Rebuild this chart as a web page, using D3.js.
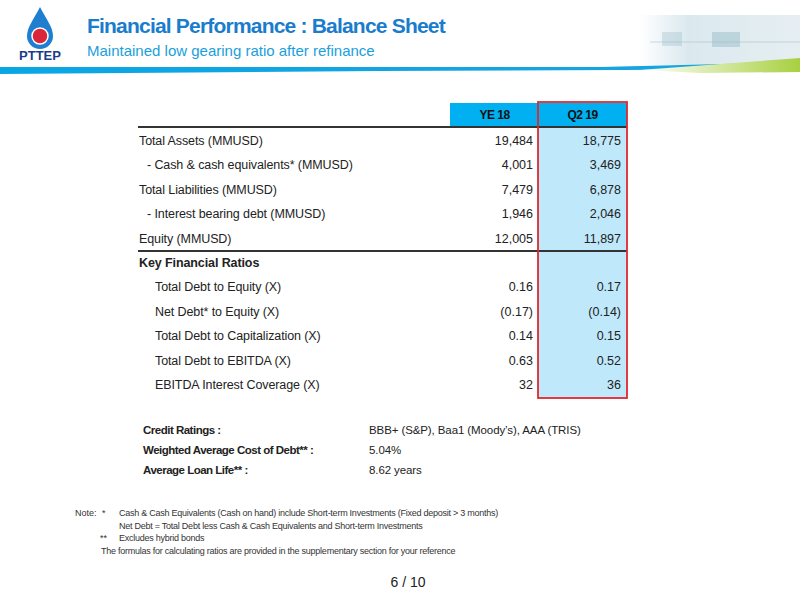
<!DOCTYPE html><html><head><meta charset="utf-8">
<script src="https://cdn.jsdelivr.net/npm/d3@7"></script>
<style>body{margin:0;background:#fff}svg{font-family:"Liberation Sans",Arial,sans-serif}</style></head><body>
<script>
const columns=["YE 18","Q2 19"];
const rowLabels=["Total Assets (MMUSD)","- Cash & cash equivalents* (MMUSD)","Total Liabilities (MMUSD)","-  Interest bearing debt (MMUSD)","Equity (MMUSD)","Key Financial Ratios","Total Debt to Equity (X)","Net Debt* to Equity (X)","Total Debt to Capitalization (X)","Total Debt to EBITDA (X)","EBITDA Interest Coverage (X)"];
const rowIndent=[0,1,0,1,0,0,2,2,2,2,2];
const ye18=["19,484","4,001","7,479","1,946","12,005","","0.16","(0.17)","0.14","0.63","32"];
const q219=["18,775","3,469","6,878","2,046","11,897","","0.17","(0.14)","0.15","0.52","36"];
const infoLabels=["Credit Ratings :","Weighted Average Cost of Debt** :","Average Loan Life** :"];
const infoValues=["BBB+ (S&P), Baa1 (Moody’s),  AAA (TRIS)","5.04%","8.62 years"];
const notes=[["Note:","*","Cash & Cash Equivalents (Cash on hand) include Short-term Investments (Fixed deposit > 3 months)"],["","","Net Debt = Total Debt less Cash & Cash Equivalents and Short-term Investments"],["","**","Excludes hybrid bonds"],["","","The formulas for calculating ratios are provided in the supplementary section for your reference"]];

const svg=d3.select("body").append("svg").attr("width",800).attr("height",600);
const defs=svg.append("defs");
const g1=defs.append("linearGradient").attr("id","band");
g1.append("stop").attr("offset","0").attr("stop-color","#0aa6e4");
g1.append("stop").attr("offset","1").attr("stop-color","#1aa3e0");
const g2=defs.append("linearGradient").attr("id","green");
g2.append("stop").attr("offset","0").attr("stop-color","#ffffff");
g2.append("stop").attr("offset","1").attr("stop-color","#a8d040");
const g3=defs.append("linearGradient").attr("id","sea");
g3.append("stop").attr("offset","0").attr("stop-color","#fff");
g3.append("stop").attr("offset","0.3").attr("stop-color","#dbe9ef");
g3.append("stop").attr("offset","1").attr("stop-color","#e6eef2");
svg.append("rect").attr("x",640).attr("y",15).attr("width",160).attr("height",50).attr("fill","url(#sea)");
svg.append("rect").attr("x",712).attr("y",32).attr("width",28).attr("height",15).attr("fill","#7aa8b8").attr("opacity",0.35);
svg.append("rect").attr("x",662).attr("y",32).attr("width",20).attr("height",14).attr("fill","#8fb4c2").attr("opacity",0.3);
svg.append("line").attr("x1",650).attr("x2",800).attr("y1",42).attr("y2",42).attr("stroke","#9bbcc8").attr("opacity",0.5);
svg.append("path").attr("d","M0,67 L600,67 L800,62 L800,69 L620,70 L380,71 L0,74 Z").attr("fill","url(#band)");
svg.append("path").attr("d","M640,70 L800,58 L800,72 L700,73 Z").attr("fill","url(#green)");
const lg=svg.append("g");
lg.append("path").attr("d","M40,7 C34,19 27,27 27,36 A13,13 0 0 0 53,36 C53,27 46,19 40,7Z").attr("fill","#1e7fd0");
lg.append("circle").attr("cx",40).attr("cy",36).attr("r",8).attr("fill","#d9263a").attr("stroke","#fff").attr("stroke-width",1.5);
svg.append("text").attr("x",40).attr("y",60).attr("text-anchor","middle").attr("font-size",13).attr("font-weight","bold").attr("fill","#1a3c8c").text("PTTEP");
svg.append("text").attr("x",87).attr("y",33).attr("font-size",21).attr("font-weight","bold").attr("fill","#1a7ccc").attr("letter-spacing",-0.8).text("Financial Performance : Balance Sheet");
svg.append("text").attr("x",87).attr("y",56).attr("font-size",15).attr("fill","#1aa0dc").text("Maintained low gearing ratio after refinance");

const x=d3.scaleOrdinal().domain(columns).range([450,538]);
const colW=89;
const rowY=d3.scalePoint().domain(d3.range(rowLabels.length)).range([141,385]);
const fs=12.5;
svg.append("rect").attr("x",x("YE 18")).attr("y",103).attr("width",colW).attr("height",24).attr("fill","#00b0f0");
svg.append("rect").attr("x",x("Q2 19")).attr("y",103).attr("width",colW).attr("height",24).attr("fill","#00b0f0");
svg.append("rect").attr("x",x("Q2 19")).attr("y",127).attr("width",colW).attr("height",271).attr("fill","#bfe9fb");
columns.forEach(c=>svg.append("text").attr("x",x(c)+colW/2).attr("y",119).attr("text-anchor","middle").attr("font-size",12).attr("letter-spacing",-0.5).attr("font-weight","bold").attr("fill","#111").text(c));
svg.append("line").attr("x1",138).attr("x2",627).attr("y1",127).attr("y2",127).attr("stroke","#333").attr("stroke-width",2);
svg.append("line").attr("x1",138).attr("x2",627).attr("y1",251).attr("y2",251).attr("stroke","#333").attr("stroke-width",2);
const indentPx=[0,8,16];
rowLabels.forEach((l,i)=>{
  const y=rowY(i)+4;
  svg.append("text").attr("x",139+indentPx[rowIndent[i]]).attr("y",y).attr("font-size",fs).attr("letter-spacing",-0.1)
   .attr("font-weight",i===5?"bold":"normal").attr("fill","#222").text(l);
  svg.append("text").attr("x",x("YE 18")+colW-6).attr("y",y).attr("text-anchor","end").attr("font-size",fs).attr("fill","#222").text(ye18[i]);
  svg.append("text").attr("x",x("Q2 19")+colW-6).attr("y",y).attr("text-anchor","end").attr("font-size",fs).attr("fill","#222").text(q219[i]);
});
svg.append("rect").attr("x",x("Q2 19")).attr("y",102).attr("width",colW).attr("height",296).attr("fill","none").attr("stroke","#e0282e").attr("stroke-width",1.8);

infoLabels.forEach((l,i)=>{
  const y=434+i*20;
  svg.append("text").attr("x",143).attr("y",y).attr("font-size",11.5).attr("letter-spacing",-0.5).attr("font-weight","bold").attr("fill","#222").text(l);
  svg.append("text").attr("x",369).attr("y",y).attr("font-size",11.5).attr("letter-spacing",-0.1).attr("fill","#222").text(infoValues[i]);
});
notes.forEach((n,i)=>{
  const y=516+i*12.5;
  svg.append("text").attr("x",75).attr("y",y).attr("font-size",9).attr("fill","#333").text(n[0]);
  svg.append("text").attr("x",i===2?100:102).attr("y",y).attr("font-size",9).attr("fill","#333").text(n[1]);
  svg.append("text").attr("x",i===3?101:119).attr("y",y).attr("font-size",9).attr("letter-spacing",-0.25).attr("fill","#333").text(n[2]);
});
svg.append("text").attr("x",408).attr("y",587).attr("text-anchor","middle").attr("font-size",14).attr("fill","#222").text("6 / 10");
</script></body></html>
